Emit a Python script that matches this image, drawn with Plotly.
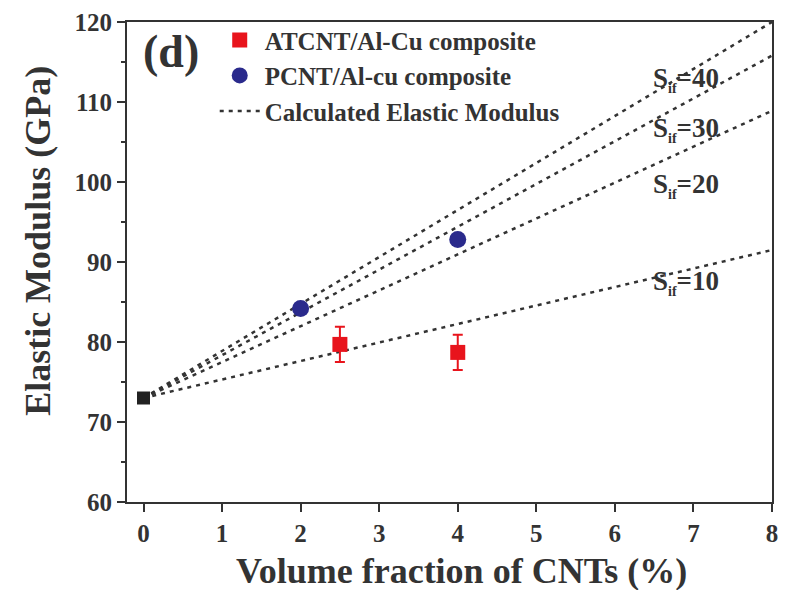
import plotly.graph_objects as go

# Data
x_base = [0]
y_base = [73.0]
x_pcnt = [2, 4]
y_pcnt = [84.2, 92.8]
x_atcnt = [2.5, 4]
y_atcnt = [79.7, 78.7]
err_atcnt = [2.2, 2.2]
s_if_labels = ["40", "30", "20", "10"]
line_end_x = 8
line_end_y = [120.0, 115.8, 108.9, 91.5]
label_x = [6.9, 6.9, 6.9, 6.9]
label_y = [112.8, 106.6, 99.6, 87.4]

FONT = "Liberation Serif"
DARK = "#333333"

fig = go.Figure()

for i, (lab, ye) in enumerate(zip(s_if_labels, line_end_y)):
    fig.add_trace(go.Scatter(
        x=[x_base[0], line_end_x], y=[y_base[0], ye], mode="lines",
        line=dict(color=DARK, width=2.5, dash="4px,5px"),
        name="Calculated Elastic Modulus", showlegend=(i == 0),
        legendrank=3, cliponaxis=True))

fig.add_trace(go.Scatter(
    x=x_atcnt, y=y_atcnt, mode="markers", name="ATCNT/Al-Cu composite",
    marker=dict(symbol="square", size=15, color="#e8141c"),
    error_y=dict(type="data", array=err_atcnt, color="#e8141c", thickness=2, width=5),
    legendrank=1))
fig.add_trace(go.Scatter(
    x=x_pcnt, y=y_pcnt, mode="markers", name="PCNT/Al-cu composite",
    marker=dict(symbol="circle", size=17, color="#2a2a8c"),
    legendrank=2))
fig.add_trace(go.Scatter(
    x=x_base, y=y_base, mode="markers", showlegend=False,
    marker=dict(symbol="square", size=13, color="#222222")))

for lab, lx, ly in zip(s_if_labels, label_x, label_y):
    fig.add_annotation(x=lx, y=ly,
                       text="<b>S<sub><span style='font-size:14px'>if</span></sub>=" + lab + "</b>",
                       showarrow=False,
                       font=dict(family=FONT, size=27, color=DARK), xanchor="center")

fig.add_annotation(x=0.0, y=0.995, xref="paper", yref="paper", text="<b>(d)</b>",
                   showarrow=False, xanchor="left", yanchor="top",
                   font=dict(family=FONT, size=46, color=DARK), xshift=14)

# axis titles
fig.add_annotation(x=0.519, y=-0.143, xref="paper", yref="paper",
                   text="<b>Volume fraction of CNTs (%)</b>", showarrow=False,
                   xanchor="center", yanchor="middle",
                   font=dict(family=FONT, size=36, color=DARK))
fig.add_annotation(x=-0.138, y=0.544, xref="paper", yref="paper",
                   text="<b>Elastic Modulus (GPa)</b>", showarrow=False, textangle=-90,
                   xanchor="center", yanchor="middle",
                   font=dict(family=FONT, size=36, color=DARK))

fig.update_layout(
    width=787, height=590,
    margin=dict(l=127, r=9, t=20, b=88),
    plot_bgcolor="white", paper_bgcolor="white",
    font=dict(family=FONT, size=20, color=DARK),
    legend=dict(x=0.136, y=1.01, xanchor="left", yanchor="top", bgcolor="rgba(0,0,0,0)",
                font=dict(family=FONT, size=25, color=DARK, weight="bold"),
                tracegroupgap=0, itemwidth=40),
    xaxis=dict(range=[-0.21, 8], tickmode="linear", dtick=1, tick0=0,
               showgrid=False, zeroline=False, showline=True, linecolor=DARK, linewidth=2,
               mirror=True, ticks="outside", ticklen=8, tickwidth=2, tickcolor=DARK,
               tickfont=dict(family=FONT, size=25, color=DARK, weight="bold")),
    yaxis=dict(range=[60, 120], tickmode="linear", dtick=10, tick0=60,
               showgrid=False, zeroline=False, showline=True, linecolor=DARK, linewidth=2,
               mirror=True, ticks="outside", ticklen=8, tickwidth=2, tickcolor=DARK,
               minor=dict(dtick=5, ticks="outside", ticklen=4, tickwidth=2, tickcolor=DARK),
               tickfont=dict(family=FONT, size=25, color=DARK, weight="bold")),
)

fig.write_html("out.html")
